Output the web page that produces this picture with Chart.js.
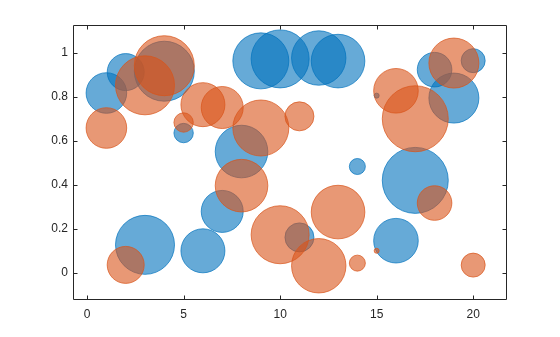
<!DOCTYPE html>
<html><head><meta charset="utf-8">
<script src="https://cdn.jsdelivr.net/npm/chart.js@4/dist/chart.umd.min.js"></script>
<style>html,body{margin:0;padding:0;background:#fff}</style>
</head><body>
<canvas id="c" width="560" height="337"></canvas>
<script>
// ---- data ----
const xValues = [1,2,3,4,5,6,7,8,9,10,11,12,13,14,15,16,17,18,19,20];
const blueY   = [0.816,0.911,0.126,0.915,0.634,0.099,0.278,0.550,0.962,0.971,0.160,0.975,0.961,0.482,0.804,0.145,0.419,0.922,0.793,0.963];
const orangeY = [0.657,0.035,0.851,0.940,0.682,0.763,0.750,0.395,0.657,0.172,0.710,0.031,0.275,0.043,0.099,0.826,0.699,0.316,0.952,0.034];
const bubbleSize = [20.3,18.5,29.5,30,9.7,22,21,26.3,28,29,14.5,27.2,26.8,8,2.5,22.3,33,17.3,25,12];
const xTicks = [0,5,10,15,20];
const yTicks = [0,0.2,0.4,0.6,0.8,1];

const toPoints = ys => xValues.map((x,i)=>({x:x, y:ys[i], r:bubbleSize[i]}));

Chart.defaults.font.family = '"Liberation Sans", Arial, Helvetica, sans-serif';
Chart.defaults.font.size = 12;
Chart.defaults.color = '#262626';

const AX = '#262626';
const boxPlugin = {
  id: 'boxTicks',
  afterDraw(chart){
    const {ctx, chartArea:a, scales:{x, y}} = chart;
    const L = Math.round(a.left)+0.5, R = Math.round(a.right)+0.5,
          T = Math.round(a.top)+0.5, B = Math.round(a.bottom)+0.5;
    ctx.save();
    ctx.strokeStyle = AX; ctx.lineWidth = 1;
    ctx.beginPath();
    ctx.rect(L, T, R-L, B-T);
    const tl = 4;
    x.ticks.forEach(t=>{
      const px = Math.round(x.getPixelForValue(t.value))+0.5;
      ctx.moveTo(px,B); ctx.lineTo(px,B-tl);
      ctx.moveTo(px,T); ctx.lineTo(px,T+tl);
    });
    y.ticks.forEach(t=>{
      const py = Math.round(y.getPixelForValue(t.value))+0.5;
      ctx.moveTo(L,py); ctx.lineTo(L+tl,py);
      ctx.moveTo(R,py); ctx.lineTo(R-tl,py);
    });
    ctx.stroke();
    ctx.restore();
  }
};

new Chart(document.getElementById('c'), {
  type: 'bubble',
  data: {
    datasets: [
      { label: 'A', data: toPoints(blueY), order: 1,
        backgroundColor: 'rgba(0,114,189,0.6)', borderColor: 'rgb(0,114,189)', borderWidth: 0.7 },
      { label: 'B', data: toPoints(orangeY), order: 0,
        backgroundColor: 'rgba(217,83,25,0.6)', borderColor: 'rgb(217,83,25)', borderWidth: 0.7 }
    ]
  },
  options: {
    responsive: false,
    animation: false,
    events: [],
    layout: { autoPadding: false, padding: { top: 25, right: 54, left: 0, bottom: 0 } },
    plugins: { legend: { display: false }, tooltip: { enabled: false } },
    scales: {
      x: {
        type: 'linear', min: -0.73, max: 21.7,
        afterBuildTicks: s => { s.ticks = xTicks.map(v=>({value:v})); },
        afterFit: s => { s.height = 38; },
        grid: { display: false, drawTicks: false },
        border: { display: false },
        ticks: { padding: 8, color: AX, maxRotation: 0, callback: v => String(v) }
      },
      y: {
        type: 'linear', min: -0.12, max: 1.125,
        afterBuildTicks: s => { s.ticks = yTicks.map(v=>({value:v})); },
        afterFit: s => { s.width = 73; },
        grid: { display: false, drawTicks: false },
        border: { display: false },
        ticks: { padding: 5, color: AX, callback: v => String(v) }
      }
    }
  },
  plugins: [boxPlugin]
});
</script>
</body></html>
